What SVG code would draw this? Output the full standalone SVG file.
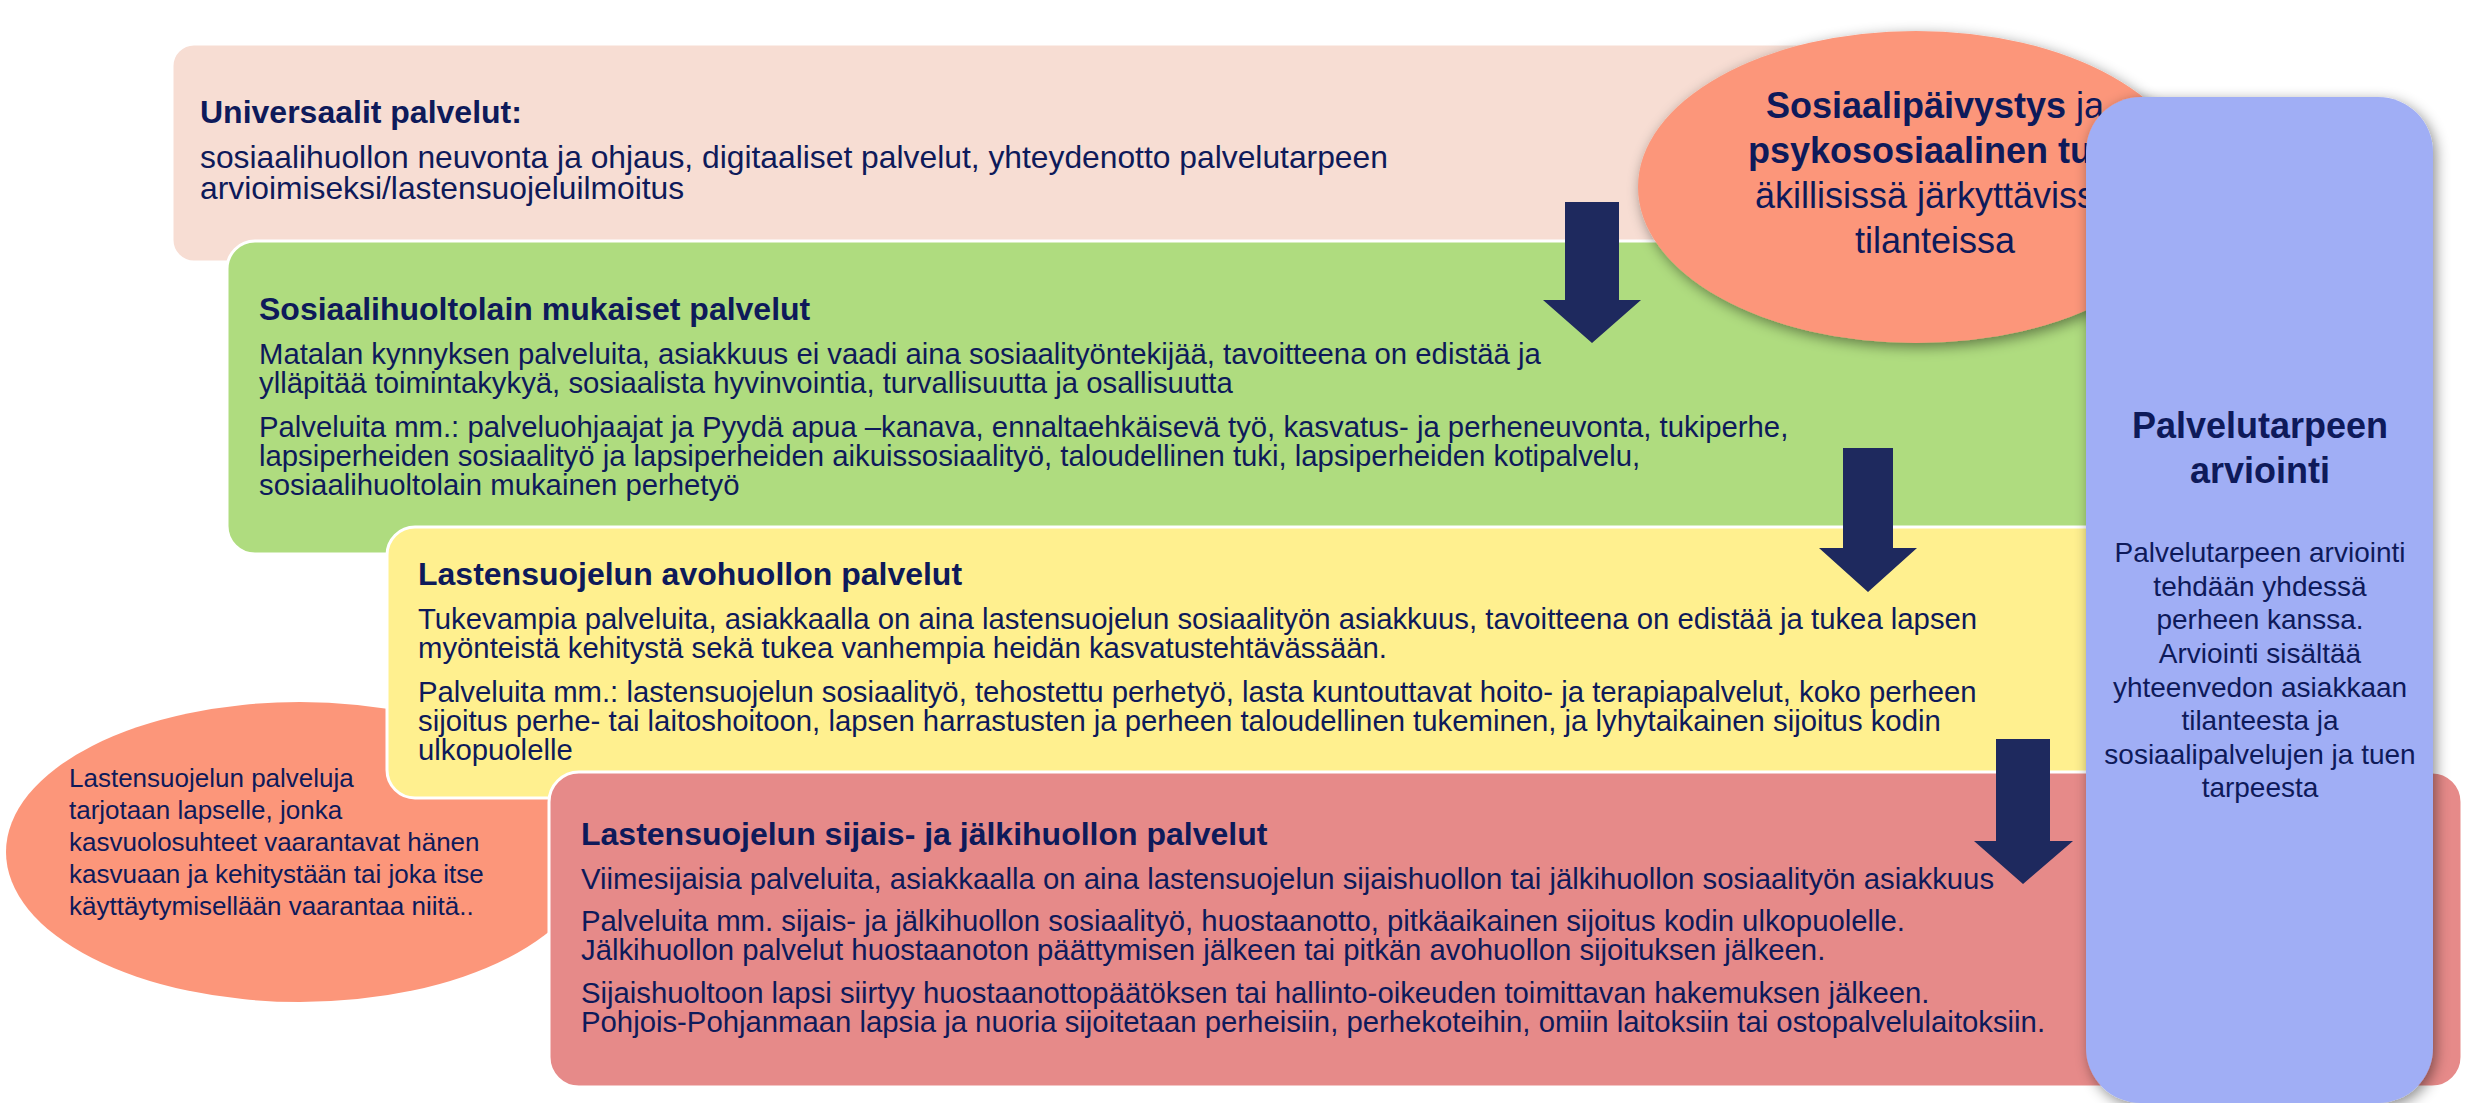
<svg xmlns="http://www.w3.org/2000/svg" width="2465" height="1103" viewBox="0 0 2465 1103">
<defs>
<style>
.box{stroke:#FFFFFF;stroke-width:3}
.t{font-family:"Liberation Sans",Arial,sans-serif;fill:#0E1A5A}
.b{font-size:31.8px}
.s{font-size:29.3px}
.h{font-size:32px;font-weight:bold}
.arr{fill:#1E295E}
</style>
<filter id="sh" x="-20%" y="-20%" width="140%" height="140%">
<feDropShadow dx="3" dy="4" stdDeviation="7" flood-color="#000" flood-opacity="0.45"/>
</filter>
</defs>
<rect width="2465" height="1103" fill="#FFFFFF"/>

<g id="universaalit">
<rect class="box" x="172" y="44" width="1880" height="218" rx="22" fill="#F7DDD3"/>
<text class="t h" x="200" y="123">Universaalit palvelut:</text>
<text class="t b" x="200" y="168">sosiaalihuollon neuvonta ja ohjaus, digitaaliset palvelut, yhteydenotto palvelutarpeen</text>
<text class="t b" x="200" y="199">arvioimiseksi/lastensuojeluilmoitus</text>
</g>

<g id="sosiaalihuolto">
<rect class="box" x="227" y="241" width="2073" height="313" rx="28" fill="#AFDC7F"/>
<text class="t h" x="259" y="320">Sosiaalihuoltolain mukaiset palvelut</text>
<text class="t s" x="259" y="364">Matalan kynnyksen palveluita, asiakkuus ei vaadi aina sosiaalityöntekijää, tavoitteena on edistää ja</text>
<text class="t s" x="259" y="393">ylläpitää toimintakykyä, sosiaalista hyvinvointia, turvallisuutta ja osallisuutta</text>
<text class="t s" x="259" y="437">Palveluita mm.: palveluohjaajat ja Pyydä apua –kanava, ennaltaehkäisevä työ, kasvatus- ja perheneuvonta, tukiperhe,</text>
<text class="t s" x="259" y="466">lapsiperheiden sosiaalityö ja lapsiperheiden aikuissosiaalityö, taloudellinen tuki, lapsiperheiden kotipalvelu,</text>
<text class="t s" x="259" y="495">sosiaalihuoltolain mukainen perhetyö</text>
</g>

<g id="lastensuojelu-info">
<ellipse cx="300" cy="852" rx="294" ry="150" fill="#FC967A"/>
<text class="t" font-size="26" x="69" y="787">Lastensuojelun palveluja</text>
<text class="t" font-size="26" x="69" y="819">tarjotaan lapselle, jonka</text>
<text class="t" font-size="26" x="69" y="851">kasvuolosuhteet vaarantavat hänen</text>
<text class="t" font-size="26" x="69" y="883">kasvuaan ja kehitystään tai joka itse</text>
<text class="t" font-size="26" x="69" y="915">käyttäytymisellään vaarantaa niitä..</text>
</g>

<g id="avohuolto">
<rect class="box" x="387" y="527" width="1913" height="271" rx="28" fill="#FFF08F"/>
<text class="t h" x="418" y="585">Lastensuojelun avohuollon palvelut</text>
<text class="t s" x="418" y="629">Tukevampia palveluita, asiakkaalla on aina lastensuojelun sosiaalityön asiakkuus, tavoitteena on edistää ja tukea lapsen</text>
<text class="t s" x="418" y="658">myönteistä kehitystä sekä tukea vanhempia heidän kasvatustehtävässään.</text>
<text class="t s" x="418" y="702">Palveluita mm.: lastensuojelun sosiaalityö, tehostettu perhetyö, lasta kuntouttavat hoito- ja terapiapalvelut, koko perheen</text>
<text class="t s" x="418" y="731">sijoitus perhe- tai laitoshoitoon, lapsen harrastusten ja perheen taloudellinen tukeminen, ja lyhytaikainen sijoitus kodin</text>
<text class="t s" x="418" y="760">ulkopuolelle</text>
</g>

<g id="sijaishuolto">
<rect class="box" x="549" y="772" width="1913" height="315" rx="30" fill="#E68A89"/>
<text class="t h" x="581" y="845">Lastensuojelun sijais- ja jälkihuollon palvelut</text>
<text class="t s" x="581" y="889">Viimesijaisia palveluita, asiakkaalla on aina lastensuojelun sijaishuollon tai jälkihuollon sosiaalityön asiakkuus</text>
<text class="t s" x="581" y="931">Palveluita mm. sijais- ja jälkihuollon sosiaalityö, huostaanotto, pitkäaikainen sijoitus kodin ulkopuolelle.</text>
<text class="t s" x="581" y="960">Jälkihuollon palvelut huostaanoton päättymisen jälkeen tai pitkän avohuollon sijoituksen jälkeen.</text>
<text class="t s" x="581" y="1003">Sijaishuoltoon lapsi siirtyy huostaanottopäätöksen tai hallinto-oikeuden toimittavan hakemuksen jälkeen.</text>
<text class="t s" x="581" y="1032">Pohjois-Pohjanmaan lapsia ja nuoria sijoitetaan perheisiin, perhekoteihin, omiin laitoksiin tai ostopalvelulaitoksiin.</text>
</g>

<g id="sosiaalipaivystys">
<ellipse cx="1916" cy="187" rx="278" ry="156" fill="#FC967A" filter="url(#sh)"/>
<text class="t" font-size="36" text-anchor="middle" x="1935" y="118"><tspan font-weight="bold">Sosiaalipäivystys</tspan> ja</text>
<text class="t" font-size="36" font-weight="bold" text-anchor="middle" x="1935" y="163">psykososiaalinen tuki</text>
<text class="t" font-size="36" text-anchor="middle" x="1935" y="208">äkillisissä järkyttävissä</text>
<text class="t" font-size="36" text-anchor="middle" x="1935" y="253">tilanteissa</text>
</g>

<g id="connectors">
<polygon class="arr" points="1565,202 1619,202 1619,300 1641,300 1592,343 1543,300 1565,300"/>
<polygon class="arr" points="1843,448 1893,448 1893,548 1917,548 1868,592 1819,548 1843,548"/>
<polygon class="arr" points="1996,739 2050,739 2050,841 2073,841 2023,884 1974,841 1996,841"/>
</g>

<g id="palvelutarpeen-arviointi">
<rect x="2086" y="97" width="347" height="1006" rx="55" fill="#A0AEF5" filter="url(#sh)"/>
<text class="t" font-size="36" font-weight="bold" text-anchor="middle" x="2260" y="438">Palvelutarpeen</text>
<text class="t" font-size="36" font-weight="bold" text-anchor="middle" x="2260" y="483">arviointi</text>
<g class="t" font-size="28" text-anchor="middle">
<text x="2260" y="562">Palvelutarpeen arviointi</text>
<text x="2260" y="596">tehdään yhdessä</text>
<text x="2260" y="629">perheen kanssa.</text>
<text x="2260" y="663">Arviointi sisältää</text>
<text x="2260" y="697">yhteenvedon asiakkaan</text>
<text x="2260" y="730">tilanteesta ja</text>
<text x="2260" y="764">sosiaalipalvelujen ja tuen</text>
<text x="2260" y="797">tarpeesta</text>
</g>
</g>
</svg>
